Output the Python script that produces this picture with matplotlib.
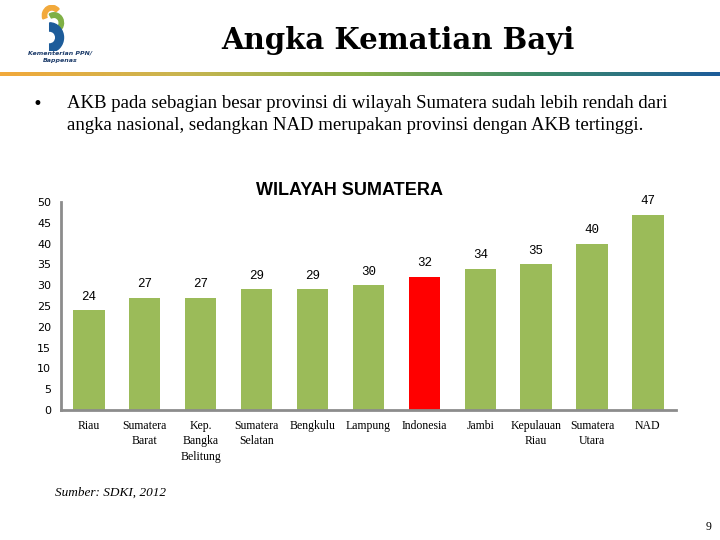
import numpy as np
import matplotlib
matplotlib.use("Agg")
import matplotlib.pyplot as plt
from matplotlib.colors import LinearSegmentedColormap
from matplotlib.patches import Wedge

provinsi = ["Riau", "Sumatera\nBarat", "Kep.\nBangka\nBelitung", "Sumatera\nSelatan",
            "Bengkulu", "Lampung", "Indonesia", "Jambi", "Kepulauan\nRiau",
            "Sumatera\nUtara", "NAD"]
akb = [24, 27, 27, 29, 29, 30, 32, 34, 35, 40, 47]
y_ticks = [0, 5, 10, 15, 20, 25, 30, 35, 40, 45, 50]

fig = plt.figure(figsize=(7.2, 5.4), dpi=100)

# header
fig.text(0.552, 0.925, "Angka Kematian Bayi", ha="center", va="center",
         fontsize=21, fontweight="bold", family="DejaVu Serif")
grad = fig.add_axes([0.0, 0.860, 1.0, 0.007])
cmap = LinearSegmentedColormap.from_list("hdr", ["#F2A93B", "#C9B550", "#8AB04A", "#3C8A6A", "#1D5C9A"])
grad.imshow(np.linspace(0, 1, 256).reshape(1, -1), aspect="auto", cmap=cmap)
grad.axis("off")

# logo
logo = fig.add_axes([0.045, 0.905, 0.06, 0.085])
logo.set_xlim(0, 1)
logo.set_ylim(0, 1)
logo.axis("off")
logo.add_patch(Wedge((0.45, 0.78), 0.22, 40, 200, width=0.1, color="#F2A93B"))
logo.add_patch(Wedge((0.5, 0.62), 0.22, -60, 120, width=0.1, color="#7FB045"))
logo.add_patch(Wedge((0.4, 0.3), 0.32, -90, 90, width=0.18, color="#1D5C9A"))
fig.text(0.083, 0.902, "Kementerian PPN/", ha="center", va="center", fontsize=4.5,
         style="italic", fontweight="bold", color="#1D3C6A")
fig.text(0.083, 0.888, "Bappenas", ha="center", va="center", fontsize=4.5,
         style="italic", fontweight="bold", color="#1D3C6A")

# bullet
fig.text(0.045, 0.808, "\u2022", fontsize=12, va="center", family="DejaVu Sans")
fig.text(0.093, 0.808, "AKB pada sebagian besar provinsi di wilayah Sumatera sudah lebih rendah dari",
         fontsize=13.5, va="center", family="Liberation Serif")
fig.text(0.093, 0.768, "angka nasional, sedangkan NAD merupakan provinsi dengan AKB tertinggi.",
         fontsize=13.5, va="center", family="Liberation Serif")

# chart
ax = fig.add_axes([0.0847, 0.2407, 0.854, 0.385])
x = np.arange(len(provinsi))
colors = ["#FF0000" if p == "Indonesia" else "#9BBB59" for p in provinsi]
ax.bar(x, akb, width=0.56, color=colors)
for xi, v in zip(x, akb):
    ax.text(xi, v + 1.8, str(v), ha="center", va="bottom", fontsize=9,
            family="Liberation Mono")
ax.set_xlim(-0.5, len(provinsi) - 0.5)
ax.set_ylim(0, 50)
ax.set_yticks(y_ticks)
ax.set_yticklabels([str(t) for t in y_ticks], fontsize=8)
ax.set_xticks(x)
ax.set_xticklabels(provinsi, fontsize=8.5, family="Liberation Serif", linespacing=1.4, va="top")
ax.tick_params(axis="both", length=0, pad=7)
for s in ["top", "right"]:
    ax.spines[s].set_visible(False)
for s in ["left", "bottom"]:
    ax.spines[s].set_color("#8C8C8C")
    ax.spines[s].set_linewidth(2)
fig.text(0.486, 0.648, "WILAYAH SUMATERA", ha="center", va="center", fontsize=13,
         fontweight="bold", family="Liberation Sans")

fig.text(0.077, 0.088, "Sumber: SDKI, 2012", fontsize=9.5, style="italic",
         family="Liberation Serif", va="center")
fig.text(0.984, 0.025, "9", fontsize=8.5, ha="center", va="center", family="Liberation Serif")

fig.savefig("out.png", dpi=100)
